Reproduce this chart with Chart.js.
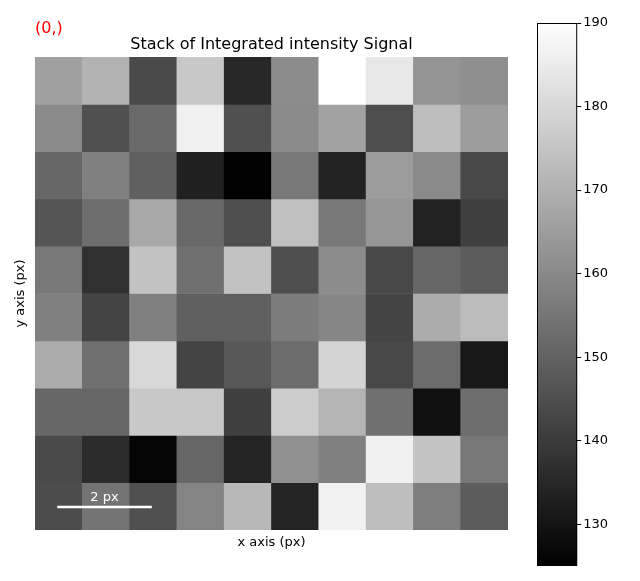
<!DOCTYPE html>
<html>
<head>
<meta charset="utf-8">
<script src="https://cdn.jsdelivr.net/npm/chart.js@4"></script>
<style>
body { margin: 0; background: #fff; }
#wrap { position: relative; width: 640px; height: 581px; }
#main { position: absolute; left: 0; top: 0; }
#cbar { position: absolute; left: 500px; top: 0; }
</style>
</head>
<body>
<div id="wrap">
<canvas id="main" width="520" height="581"></canvas>
<canvas id="cbar" width="110" height="581"></canvas>
</div>
<script>
const columns = ["0", "1", "2", "3", "4", "5", "6", "7", "8", "9"];
const vMin = 125, vMax = 190;
const colorTicks = [130, 140, 150, 160, 170, 180, 190];

const row0 = [165.8, 170.6, 143.9, 176.0, 135.2, 160.7, 190.0, 184.2, 162.7, 161.5];
const row1 = [160.2, 145.4, 152.0, 186.2, 145.4, 160.2, 166.3, 144.9, 173.2, 164.8];
const row2 = [151.0, 157.6, 149.5, 133.2, 125.0, 155.6, 133.7, 164.8, 160.2, 143.4];
const row3 = [146.7, 153.0, 167.8, 151.5, 144.9, 174.0, 155.6, 163.3, 133.7, 141.3];
const row4 = [155.6, 137.2, 174.5, 153.6, 174.5, 144.9, 160.7, 143.4, 151.0, 148.5];
const row5 = [157.6, 142.3, 157.6, 149.5, 149.5, 156.6, 159.2, 142.3, 168.9, 172.9];
const row6 = [168.9, 153.6, 180.1, 142.3, 147.4, 152.5, 179.1, 143.4, 152.5, 131.1];
const row7 = [151.0, 151.0, 176.0, 176.0, 141.3, 177.0, 170.9, 153.6, 129.1, 153.0];
const row8 = [143.9, 136.2, 126.3, 151.0, 134.2, 161.7, 157.6, 186.2, 175.0, 155.6];
const row9 = [144.4, 154.6, 145.4, 158.7, 171.9, 134.2, 186.7, 173.5, 157.1, 148.5];
const rows = [row0, row1, row2, row3, row4, row5, row6, row7, row8, row9];

function gray(v) {
    const g = Math.round(Math.max(0, Math.min(1, (v - vMin) / (vMax - vMin))) * 255);
    return `rgb(${g},${g},${g})`;
}

const FONT = "DejaVu Sans";

// labels, title and scale bar
const decorations = {
    id: "decorations",
    afterDraw(chart) {
        const { ctx, chartArea: a } = chart;
        ctx.save();
        ctx.fillStyle = "red";
        ctx.font = `16px ${FONT}`;
        ctx.textAlign = "left";
        ctx.textBaseline = "middle";
        ctx.fillText("(0,)", a.left, 29);

        ctx.fillStyle = "#000";
        ctx.font = `16px ${FONT}`;
        ctx.textAlign = "center";
        ctx.fillText("Stack of Integrated intensity Signal", (a.left + a.right) / 2, 45);

        ctx.font = `13px ${FONT}`;
        ctx.fillText("x axis (px)", (a.left + a.right) / 2, 543);
        ctx.translate(21, (a.top + a.bottom) / 2);
        ctx.rotate(-Math.PI / 2);
        ctx.fillText("y axis (px)", 0, 0);
        ctx.restore();

        // scale bar: 2 px wide
        const cellW = (a.right - a.left) / columns.length;
        const x0 = a.left + 0.47 * cellW, x1 = x0 + 2 * cellW;
        const y = a.bottom - 23;
        ctx.save();
        ctx.strokeStyle = "#fff";
        ctx.lineWidth = 2.5;
        ctx.beginPath();
        ctx.moveTo(x0, y);
        ctx.lineTo(x1, y);
        ctx.stroke();
        ctx.fillStyle = "#fff";
        ctx.font = `13px ${FONT}`;
        ctx.textAlign = "center";
        ctx.textBaseline = "bottom";
        ctx.fillText("2 px", (x0 + x1) / 2, y - 3);
        ctx.restore();
    }
};

new Chart(document.getElementById("main"), {
    type: "bar",
    data: {
        labels: columns,
        datasets: rows.map((r, i) => ({
            label: "row " + i,
            data: r.map(() => 1),
            backgroundColor: r.map(gray),
            borderWidth: 0,
            categoryPercentage: 1,
            barPercentage: 1,
            stack: "s"
        }))
    },
    options: {
        responsive: false,
        animation: false,
        layout: { padding: { left: 35, top: 57, right: 12, bottom: 51 } },
        plugins: { legend: { display: false }, tooltip: { enabled: false } },
        scales: {
            x: { display: false, stacked: true },
            y: { display: false, stacked: true, reverse: true, min: 0, max: 10 }
        }
    },
    plugins: [decorations]
});

const cbarFrame = {
    id: "cbarFrame",
    afterDraw(chart) {
        const { ctx, chartArea: a } = chart;
        ctx.save();
        ctx.strokeStyle = "#000";
        ctx.lineWidth = 1;
        ctx.strokeRect(a.left + 0.5, a.top + 0.5, a.right - a.left - 1, a.bottom - a.top - 1);
        ctx.restore();
    }
};

new Chart(document.getElementById("cbar"), {
    type: "bar",
    data: {
        labels: ["c"],
        datasets: [{
            data: [[vMin, vMax]],
            backgroundColor: ctx => {
                const a = ctx.chart.chartArea;
                if (!a) return "#888";
                const g = ctx.chart.ctx.createLinearGradient(0, a.bottom, 0, a.top);
                g.addColorStop(0, "#000");
                g.addColorStop(1, "#fff");
                return g;
            },
            borderWidth: 0,
            categoryPercentage: 1,
            barPercentage: 1
        }]
    },
    options: {
        responsive: false,
        animation: false,
        layout: { padding: { left: 37, top: 23, right: 0, bottom: 15 } },
        plugins: { legend: { display: false }, tooltip: { enabled: false } },
        scales: {
            x: { display: false },
            y: {
                position: "right",
                min: vMin, max: vMax,
                grid: { display: true, drawOnChartArea: false, drawTicks: true, tickLength: 4, color: "#000" },
                border: { display: false },
                afterBuildTicks: s => { s.ticks = colorTicks.map(v => ({ value: v })); },
                ticks: { color: "#000", font: { family: FONT, size: 13 }, padding: 2 }
            }
        }
    },
    plugins: [cbarFrame]
});
</script>
</body>
</html>
